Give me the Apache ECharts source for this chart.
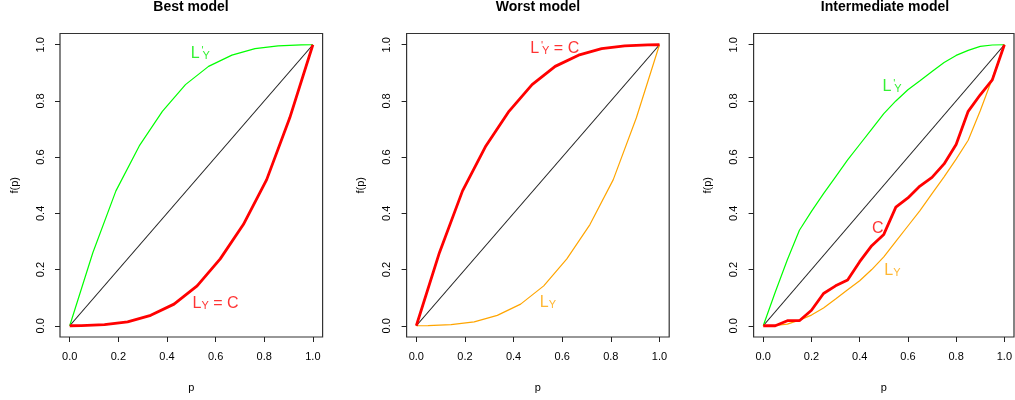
<!DOCTYPE html>
<html>
<head>
<meta charset="utf-8">
<script src="https://cdn.jsdelivr.net/npm/echarts@6/dist/echarts.min.js"></script>
<style>
html,body{margin:0;padding:0;background:#fff;}
#chart{width:1015px;height:400px;}
</style>
</head>
<body>
<div id="chart"></div>
<script>
// ---- data ----
var titles = ['Best model', 'Worst model', 'Intermediate model'];
var tickValues = [0, 0.2, 0.4, 0.6, 0.8, 1.0];
var diagP = [0, 1];
var diagF = [0, 1];

// Best model
var bestCP = [0, 0.048, 0.143, 0.238, 0.333, 0.429, 0.524, 0.619, 0.714, 0.810, 0.905, 1];
var bestCF = [0, 0.0005, 0.004, 0.014, 0.037, 0.077, 0.142, 0.238, 0.36, 0.52, 0.74, 1];
var bestLpP = [0, 0.095, 0.190, 0.286, 0.381, 0.476, 0.571, 0.667, 0.762, 0.857, 0.952, 1];
var bestLpF = [0, 0.26, 0.48, 0.64, 0.763, 0.858, 0.923, 0.963, 0.986, 0.996, 0.9995, 1];

// Worst model
var worstCP = [0, 0.095, 0.190, 0.286, 0.381, 0.476, 0.571, 0.667, 0.762, 0.857, 0.952, 1];
var worstCF = [0, 0.26, 0.48, 0.64, 0.763, 0.858, 0.923, 0.963, 0.986, 0.996, 0.9995, 1];
var worstLP = [0, 0.048, 0.143, 0.238, 0.333, 0.429, 0.524, 0.619, 0.714, 0.810, 0.905, 1];
var worstLF = [0, 0.0005, 0.004, 0.014, 0.037, 0.077, 0.142, 0.238, 0.36, 0.52, 0.74, 1];

// Intermediate model
var interP = [0, 0.05, 0.1, 0.15, 0.2, 0.25, 0.3, 0.35, 0.4, 0.45, 0.5, 0.55, 0.6, 0.65, 0.7, 0.75, 0.8, 0.85, 0.9, 0.95, 1];
var interCF = [0, 0, 0.018, 0.018, 0.055, 0.115, 0.142, 0.163, 0.228, 0.285, 0.325, 0.422, 0.455, 0.497, 0.528, 0.576, 0.645, 0.763, 0.822, 0.875, 1];
var interLF = [0, 0.001, 0.006, 0.02, 0.038, 0.063, 0.095, 0.128, 0.16, 0.2, 0.245, 0.3, 0.355, 0.41, 0.47, 0.53, 0.593, 0.66, 0.765, 0.88, 1];
var interLpF = [0, 0.12, 0.235, 0.34, 0.407, 0.47, 0.53, 0.59, 0.645, 0.7, 0.755, 0.8, 0.84, 0.872, 0.905, 0.937, 0.962, 0.98, 0.994, 0.999, 1];

// text annotations: [panel, p, f, text, color]
var notes = [
  [0, 0.537, 0.970, '{m|L}{q|\'}{s|Y}', '#00EE00'],
  [0, 0.600, 0.079, '{m|L}{s|Y}{m| = C}', '#FF0000'],
  [1, 0.569, 0.988, '{m|L}{q|\'}{s|Y}{m| = C}', '#FF0000'],
  [1, 0.541, 0.082, '{m|L}{s|Y}', '#FFA500'],
  [2, 0.534, 0.852, '{m|L}{q|\'}{s|Y}', '#00EE00'],
  [2, 0.475, 0.347, '{m|C}', '#FF0000'],
  [2, 0.536, 0.198, '{m|L}{s|Y}', '#FFA500']
];

// ---- layout ----
var FONT = '"Liberation Sans", Arial, Helvetica, sans-serif';
var gridLefts = [60, 406.6, 753.6];
var gridW = 262.6;
var titleX = [191, 538, 885];

function pairs(xs, ys) { return xs.map(function (x, i) { return [x, ys[i]]; }); }

var grids = [], xAxes = [], yAxes = [], series = [], titleArr = [];
for (var i = 0; i < 3; i++) {
  grids.push({
    left: gridLefts[i], top: 33.5, width: gridW, height: 303.5,
    show: true, borderColor: '#333', borderWidth: 1.2, backgroundColor: 'transparent'
  });
  xAxes.push({
    type: 'value', gridIndex: i, min: -0.04, max: 1.04, position: 'bottom',
    name: 'p', nameLocation: 'middle', nameGap: 45,
    nameTextStyle: { fontFamily: FONT, fontSize: 11, color: '#000' },
    axisLine: { show: false, onZero: false },
    splitLine: { show: false },
    axisTick: { show: true, length: 5, inside: false, customValues: tickValues, lineStyle: { color: '#222' } },
    axisLabel: { show: true, margin: 14, customValues: tickValues, fontFamily: FONT, fontSize: 11, color: '#000',
      formatter: function (v) { return Number(v).toFixed(1); } }
  });
  yAxes.push({
    type: 'value', gridIndex: i, min: -0.04, max: 1.04, position: 'left',
    name: 'f(p)', nameLocation: 'middle', nameGap: 40, nameRotate: 90,
    nameTextStyle: { fontFamily: FONT, fontSize: 11, color: '#000' },
    axisLine: { show: false, onZero: false },
    splitLine: { show: false },
    axisTick: { show: true, length: 5, inside: false, customValues: tickValues, lineStyle: { color: '#222' } },
    axisLabel: { show: true, margin: 14, rotate: 90, customValues: tickValues, fontFamily: FONT, fontSize: 11, color: '#000',
      formatter: function (v) { return Number(v).toFixed(1); } }
  });
  titleArr.push({
    text: titles[i], left: titleX[i], top: 0, textAlign: 'center', padding: 0,
    textStyle: { fontFamily: FONT, fontSize: 14, fontWeight: 'bold', color: '#000' }
  });
  series.push({
    type: 'line', xAxisIndex: i, yAxisIndex: i, data: pairs(diagP, diagF),
    symbol: 'none', lineStyle: { color: '#222', width: 1.1 }, z: 2
  });
}

function line(idx, xs, ys, color, width) {
  series.push({
    type: 'line', xAxisIndex: idx, yAxisIndex: idx, data: pairs(xs, ys),
    symbol: 'none', lineStyle: { color: color, width: width }, z: 3
  });
}
line(0, bestLpP, bestLpF, '#00FF00', 1.2);
line(0, bestCP, bestCF, '#FF0000', 2.8);
line(1, worstLP, worstLF, '#FFA500', 1.2);
line(1, worstCP, worstCF, '#FF0000', 2.8);
line(2, interP, interLpF, '#00FF00', 1.2);
line(2, interP, interLF, '#FFA500', 1.2);
line(2, interP, interCF, '#FF0000', 2.8);

notes.forEach(function (n) {
  series.push({
    type: 'scatter', xAxisIndex: n[0], yAxisIndex: n[0],
    data: [[n[1], n[2]]], symbolSize: 0, silent: true, z: 5,
    label: {
      show: true, position: 'inside', formatter: n[3],
      rich: {
        m: { fontFamily: FONT, fontSize: 16, lineHeight: 16, color: n[4], verticalAlign: 'middle' },
        s: { fontFamily: FONT, fontSize: 11, lineHeight: 11, color: n[4], verticalAlign: 'bottom' },
        q: { fontFamily: FONT, fontSize: 11, lineHeight: 11, color: n[4], verticalAlign: 'top', width: 0, padding: [0, 0, 0, 3] }
      }
    }
  });
});

var chart = echarts.init(document.getElementById('chart'), null, { renderer: 'canvas' });
chart.setOption({
  animation: false,
  backgroundColor: '#fff',
  title: titleArr,
  grid: grids,
  xAxis: xAxes,
  yAxis: yAxes,
  series: series
});
</script>
</body>
</html>
